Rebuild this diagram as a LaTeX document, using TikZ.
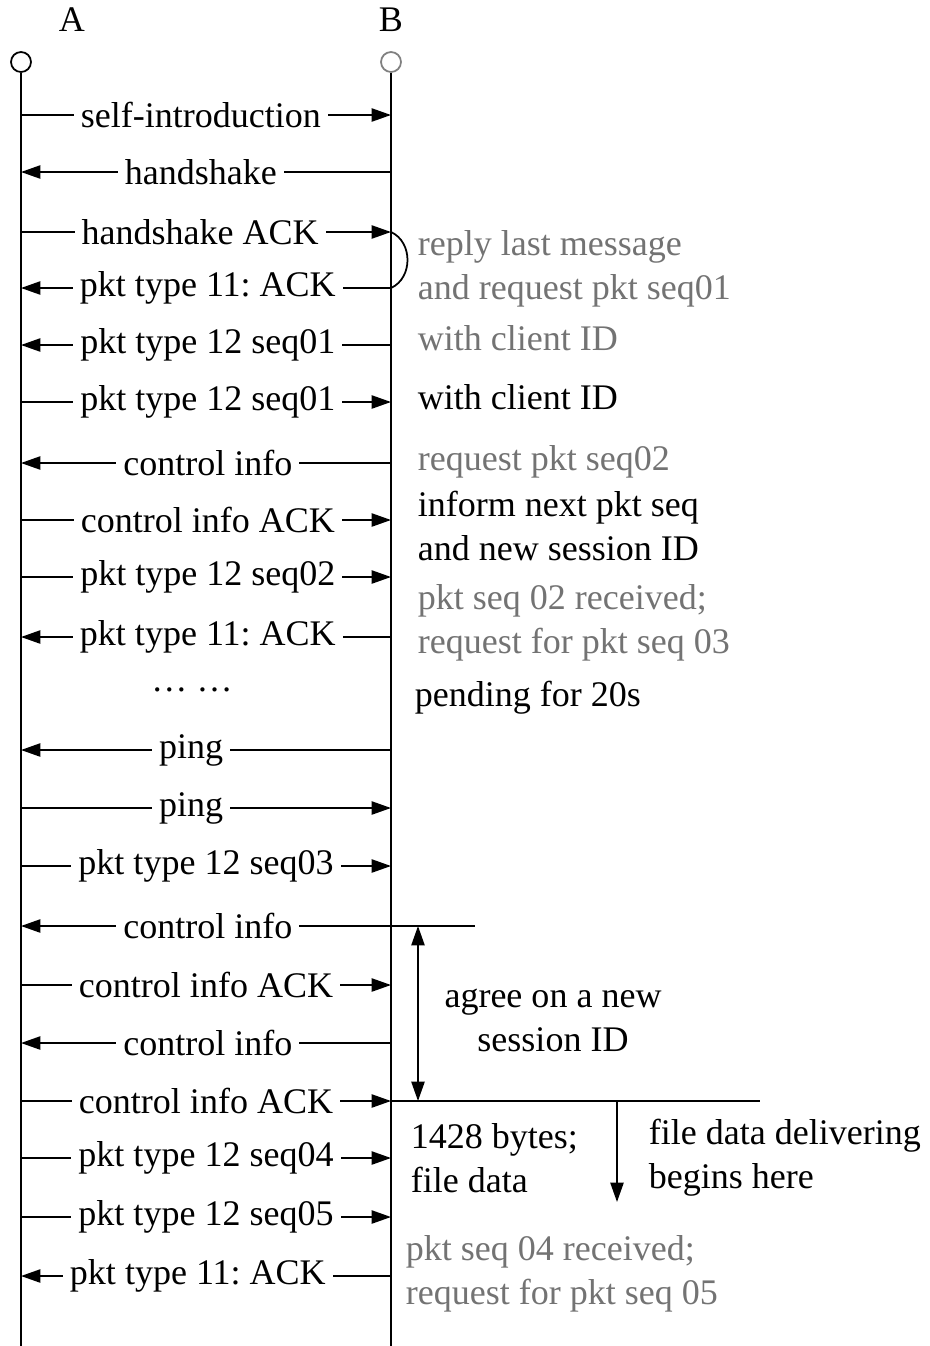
\documentclass[tikz,border=0pt]{standalone}
\usepackage{fontspec}
\setmainfont{Liberation Serif}
\usetikzlibrary{arrows.meta}
\frenchspacing

\begin{document}
\begin{tikzpicture}[x=0.02cm,y=-0.02cm,line width=1pt,
    font=\fontsize{20.5}{25}\selectfont,
    msgr/.style={-{Triangle[length=11pt,width=7.5pt]}},
    msgl/.style={{Triangle[length=11pt,width=7.5pt]}-},
    lbl/.style={fill=white,inner xsep=4pt,inner ysep=1pt},
    note/.style={anchor=west,inner sep=0pt,align=left},
    greynote/.style={note,text=black!55}]
\useasboundingbox (0,0) rectangle (930,1346);

% the two parties and their time lines
\node (A) at (72,20) {A};
\node (B) at (391,20) {B};
\node[circle,draw,minimum size=0.4cm,inner sep=0pt] (Atop) at (21,62) {};
\node[circle,draw=black!50,minimum size=0.4cm,inner sep=0pt] (Btop) at (391,62) {};
\coordinate (Aend) at (21,1346);
\coordinate (Bend) at (391,1346);
\draw (Atop.south) -- (Aend);
\draw (Btop.south) -- (Bend);

% messages
\foreach \y/\p/\d/\txt [count=\i] in {
    115/0.486/msgr/self-introduction,
    172/0.486/msgl/handshake,
    232/0.484/msgr/handshake ACK,
    288/0.505/msgl/pkt type 11: ACK,
    345/0.505/msgl/pkt type 12 seq01,
    402/0.505/msgr/pkt type 12 seq01,
    463/0.505/msgl/control info,
    520/0.505/msgr/control info ACK,
    577/0.505/msgr/pkt type 12 seq02,
    637/0.505/msgl/pkt type 11: ACK,
    750/0.46/msgl/ping,
    808/0.46/msgr/ping,
    866/0.50/msgr/pkt type 12 seq03,
    926/0.505/msgl/control info,
    985/0.50/msgr/control info ACK,
    1043/0.505/msgl/control info,
    1101/0.50/msgr/control info ACK,
    1158/0.50/msgr/pkt type 12 seq04,
    1217/0.50/msgr/pkt type 12 seq05,
    1276/0.478/msgl/pkt type 11: ACK}{
  \coordinate (a\i) at (21,\y);
  \coordinate (b\i) at (391,\y);
  \draw[\d] (a\i) -- node[lbl,pos=\p] (m\i) {\txt} (b\i);
}
\node (dots) at (192,690) {\dots\ \dots};

% notes at B
\draw (b3) .. controls +(22,10) and +(22,-10) .. (b4);
\node[greynote] (n1) at (417,269) {reply last message\\and request pkt seq01};
\node[greynote] (n2) at (417,338) {with client ID};
\node[note] (n3) at (417,397) {with client ID};
\node[greynote] (n4) at (417,462) {request pkt seq02};
\node[note] (n5) at (417,526) {inform next pkt seq\\and new session ID};
\node[greynote] (n6) at (417,623) {pkt seq 02 received;\\request for pkt seq 03};
\node[note] (n7) at (414,698) {pending for 20s};

% new session ID
\coordinate (e14) at (475,926);
\coordinate (e17) at (760,1101);
\draw (b14) -- (e14);
\draw (b17) -- (e17);
\coordinate (s1) at (418,926);
\coordinate (s2) at (418,1101);
\draw[{Triangle[length=11pt,width=7.5pt]}-{Triangle[length=11pt,width=7.5pt]}] (s1) -- (s2);
\node[align=center,inner sep=0pt] (agree) at (553,1020) {agree on a new\\session ID};

% file data
\coordinate (d1) at (617,1101);
\coordinate (d2) at (617,1202);
\draw[msgr] (d1) -- (d2);
\node[note] (n8) at (410,1158) {1428 bytes;\\file data};
\node[note] (n9) at (648,1158) {file data delivering\\begins here};
\node[greynote] (n10) at (405,1274) {pkt seq 04 received;\\request for pkt seq 05};
\end{tikzpicture}
\end{document}
